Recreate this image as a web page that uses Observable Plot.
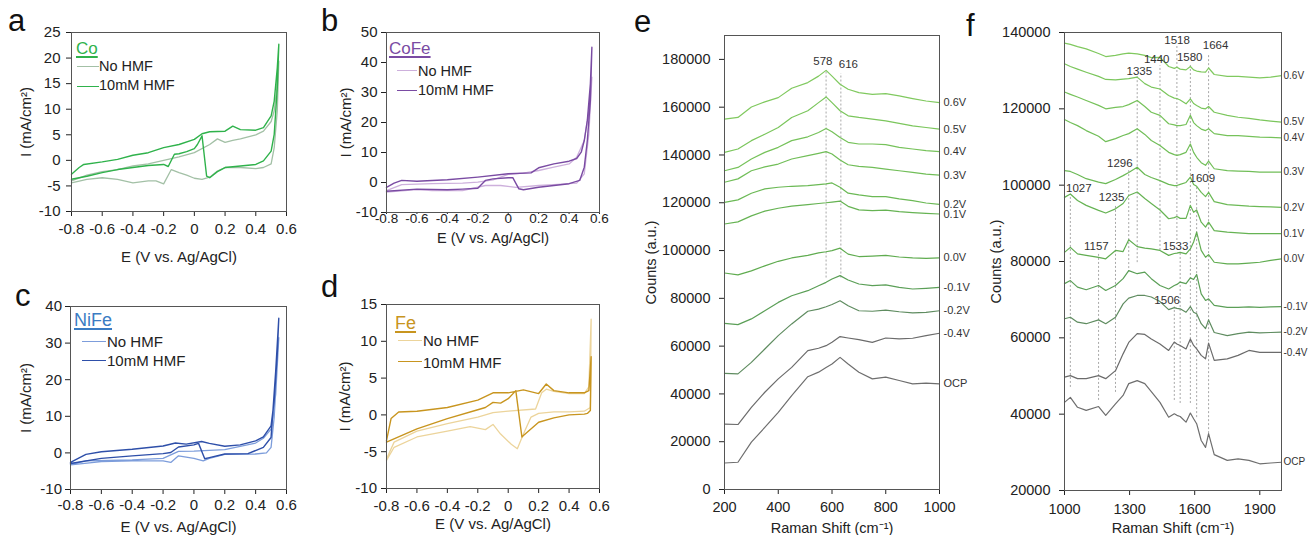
<!DOCTYPE html>
<html><head><meta charset="utf-8">
<script src="https://cdn.jsdelivr.net/npm/d3@7"></script>
<script src="https://cdn.jsdelivr.net/npm/@observablehq/plot@0.6"></script>
<style>
body{margin:0;background:#fff;font-family:"Liberation Sans",Arial,sans-serif;}
#fig{position:relative;width:1308px;height:535px;overflow:hidden;background:#fff;}
.panel{position:absolute;}
.t{position:absolute;line-height:1;white-space:nowrap;color:#222;}
.sw{position:absolute;height:0;}
</style></head>
<body><div id="fig"></div>
<script>
// ---------- CV data (forward sweep then reverse sweep) ----------
const co_hmf_E = [-0.8,-0.75,-0.72,-0.6,-0.5,-0.4,-0.3,-0.2,-0.1,0,0.05,0.1,0.2,0.25,0.3,0.4,0.45,0.5,0.52,0.54,0.55, 0.54,0.52,0.5,0.45,0.4,0.3,0.2,0.15,0.1,0.08,0.05,0.02,0,-0.05,-0.1,-0.13,-0.17,-0.2,-0.3,-0.4,-0.5,-0.6,-0.7,-0.8];
const co_hmf_I = [-2.7,-1.4,-0.8,-0.3,0.2,1.0,1.5,2.5,3.1,4.1,5.2,5.6,5.7,6.7,6.0,5.9,6.4,8.7,11.6,18.1,22.7, 14.2,5.1,1.8,-0.1,-0.8,-1.1,-1.4,-2.2,-3.4,-3.1,4.8,3.1,2.3,1.7,1.3,1.2,-1.2,-0.8,-1.0,-1.4,-1.8,-2.4,-3.1,-3.7];
const co_no_E = [-0.8,-0.7,-0.6,-0.5,-0.4,-0.3,-0.2,-0.1,0,0.1,0.15,0.2,0.25,0.3,0.4,0.45,0.5,0.52,0.54,0.55, 0.54,0.52,0.5,0.45,0.4,0.3,0.2,0.15,0.1,0.05,0,-0.05,-0.1,-0.15,-0.2,-0.25,-0.3,-0.4,-0.5,-0.6,-0.7,-0.8];
const co_no_I = [-4.0,-2.9,-2.2,-1.8,-1.1,-0.7,0,0.7,1.5,3.1,4.2,3.5,3.9,4.2,5.0,5.7,7.6,9.7,14.9,19.4, 9.7,2.5,-0.7,-1.4,-1.6,-1.4,-1.4,-2.1,-3.3,-3.7,-3.5,-2.9,-2.4,-1.8,-4.6,-4.0,-4.0,-4.4,-3.7,-3.4,-3.7,-4.4];

const cofe_hmf_E = [-0.8,-0.75,-0.7,-0.6,-0.4,-0.2,0,0.15,0.2,0.3,0.4,0.45,0.48,0.5,0.52,0.54,0.55, 0.54,0.52,0.5,0.47,0.4,0.3,0.2,0.1,0.07,0.03,0,-0.1,-0.15,-0.2,-0.3,-0.4,-0.6,-0.8];
const cofe_hmf_I = [-1.6,-0.2,0.7,0.4,0.9,1.8,2.9,3.2,4.9,6.2,7.1,8.0,10.1,14.0,20.7,32.9,45.1, 27.3,14.0,5.1,0.7,-0.4,-1.0,-1.6,-2.4,-2.1,1.6,1.6,1.2,0.7,-1.9,-2.2,-2.4,-2.2,-2.9];
const cofe_no_E = [-0.8,-0.7,-0.5,-0.3,-0.2,-0.1,0,0.1,0.2,0.3,0.4,0.45,0.5,0.53,0.55, 0.53,0.5,0.45,0.3,0.2,0.05,-0.05,-0.15,-0.3,-0.5,-0.6,-0.8];
const cofe_no_I = [-2.7,-0.7,-0.4,-0.2,0.1,0.9,2.7,3.1,4.0,5.1,6.2,8.4,14.0,24.0,35.1, 16.2,2.9,-0.2,-0.7,-1.0,-1.6,-1.0,-1.0,-2.7,-2.7,-2.4,-3.2];

const nife_hmf_E = [-0.8,-0.75,-0.7,-0.6,-0.4,-0.2,-0.12,-0.05,0.05,0.1,0.2,0.3,0.4,0.45,0.5,0.52,0.54,0.55, 0.53,0.5,0.45,0.35,0.2,0.1,0.07,0.03,0,-0.1,-0.15,-0.2,-0.4,-0.6,-0.8];
const nife_hmf_I = [-2.6,-1.5,-0.4,0.3,1.0,1.9,2.7,2.4,3.1,2.6,1.8,2.2,3.3,4.4,7.4,14.2,27.0,36.8, 22.4,4.2,1.5,-0.2,-0.3,-1.3,-1.6,2.6,2.2,1.6,0.1,-0.2,-0.8,-1.5,-2.9];
const nife_no_E = [-0.8,-0.7,-0.4,-0.2,-0.1,0,0.2,0.3,0.4,0.45,0.5,0.53,0.55, 0.52,0.5,0.47,0.4,0.2,0.1,0.06,0,-0.1,-0.15,-0.2,-0.4,-0.6,-0.8];
const nife_no_I = [-3.1,-2.2,-1.9,-1.5,0.4,0.5,0.9,1.8,2.7,4.0,6.5,16.0,31.5, 9.7,1.5,0,-0.3,-0.4,-1.5,-2.2,-1.5,-0.8,-2.6,-2.2,-2.2,-2.4,-3.3];

const fe_hmf_E = [-0.8,-0.77,-0.72,-0.6,-0.4,-0.2,-0.1,0,0.1,0.2,0.25,0.3,0.4,0.5,0.53,0.545, 0.54,0.52,0.5,0.4,0.3,0.2,0.1,0.09,0.05,0,-0.05,-0.1,-0.15,-0.2,-0.4,-0.6,-0.8];
const fe_hmf_I = [-3.5,-0.5,0.4,0.5,1.0,2.0,3.0,3.0,3.4,2.9,4.2,3.3,3.0,3.0,3.3,7.9, 0.6,0.2,0.1,0,-0.4,-1.0,-2.8,-3.0,3.3,2.2,1.6,1.7,1.0,0.7,-0.5,-1.9,-3.7];
const fe_no_E = [-0.8,-0.75,-0.6,-0.4,-0.2,-0.1,0,0.18,0.22,0.25,0.3,0.4,0.5,0.53,0.545, 0.54,0.5,0.4,0.3,0.2,0.15,0.1,0.06,0.02,-0.05,-0.1,-0.15,-0.25,-0.4,-0.6,-0.75,-0.8];
const fe_no_I = [-6.0,-3.7,-2.2,-1.2,-0.3,0.3,0.5,0.8,3.0,3.5,3.2,2.9,2.9,3.8,13.0, 1.0,0.5,0.4,0.4,0.2,-0.3,-2.6,-4.6,-4.0,-2.6,-1.3,-2.0,-1.6,-2.2,-3.0,-4.4,-6.2];

const cvXTicks = [-0.8,-0.6,-0.4,-0.2,0,0.2,0.4,0.6];
const coYTicks = [-10,-5,0,5,10,15,20,25];
const cofeYTicks = [-10,0,10,20,30,40,50];
const nifeYTicks = [-10,0,10,20,30,40];
const feYTicks = [-10,-5,0,5,10,15];

// ---------- Raman (e) ----------
const e_x = [200,250,300,350,400,450,510,550,578,600,630,660,700,750,800,850,900,950,1000];
const e_p06 = [155000,155700,160100,162200,164000,167900,170300,173000,175400,173000,169600,167500,166100,165400,165700,164700,163600,162600,161900];
const e_p05 = [141100,142500,146000,148700,151500,155700,158500,161900,164300,161900,158500,156400,155700,155000,154300,153200,152200,151500,150800];
const e_p04 = [133400,134800,138300,141100,143200,146000,147600,149400,151100,149700,147300,145300,144600,144600,144300,143200,142500,141800,141400];
const e_p03 = [128600,130000,133400,135000,136200,138300,139700,140700,141400,140400,137900,135900,135200,134800,134100,133400,132700,132000,131600];
const e_p02 = [120200,121200,124000,125800,126500,126900,127200,127600,127900,128300,126500,124000,123300,122600,122600,121600,120900,119900,119300];
const e_p01 = [111100,112000,114500,116500,117700,118600,119200,119700,120000,120300,120700,118500,117000,116700,116900,116300,115900,115600,115300];
const e_p00 = [90600,89800,91500,93600,95500,96900,98000,99000,99500,100000,101000,98500,97500,97700,98000,97300,96900,96700,96900];
const e_m01 = [69500,69000,71400,74800,78300,81100,83200,85300,86700,88100,89500,87700,86000,85300,85600,84600,83900,84200,84600];
const e_m02 = [48600,48400,53200,58800,64400,69300,74600,75500,76500,77400,79000,76900,74800,74600,75100,74400,73900,74100,74800];
const e_m04 = [27400,27200,34400,40700,46300,51100,58100,59100,60200,61600,64000,63400,62700,61600,63400,63000,63300,64400,65400];
const e_ocp = [11100,11400,19800,26000,32300,39300,47200,49100,51100,52500,55300,52500,49100,46300,47000,45600,44200,44500,44200];
const e_names = ["0.6V","0.5V","0.4V","0.3V","0.2V","0.1V","0.0V","-0.1V","-0.2V","-0.4V","OCP"];
const e_spectra = [e_p06,e_p05,e_p04,e_p03,e_p02,e_p01,e_p00,e_m01,e_m02,e_m04,e_ocp];
const e_xTicks = [200,400,600,800,1000];
const e_yTicks = [0,20000,40000,60000,80000,100000,120000,140000,160000,180000];
const e_lineX = [578,633];
const e_lineTop = [175000,174000];
const e_lineBottom = [88500,88500];
const e_peakText = ["578","616"];
const e_peakX = [566,661];
const e_peakY = [179150,177900];

// ---------- Raman (f) ----------
const f_x = [1000,1027,1060,1100,1157,1190,1235,1270,1296,1335,1370,1400,1440,1480,1506,1518,1533,1560,1580,1595,1609,1630,1650,1664,1690,1750,1800,1850,1900,1950,2000];
const f_p06 = [137200,136900,136300,135700,134500,133700,134000,134400,134600,134400,134000,133400,133500,131100,130600,130900,130400,130200,131100,130200,129900,129700,129600,130700,129000,128500,128500,128300,128100,128300,128700];
const f_p05 = [131800,131100,130400,129600,128500,127700,127600,127800,127900,128300,126600,125700,125200,123500,122800,122700,122300,121300,122600,121400,120900,120200,120000,120600,119100,118300,117800,117500,117100,116800,116500];
const f_p04 = [124400,123800,123100,122200,120900,120000,120400,120600,121100,122200,120600,119100,118300,116100,115800,115600,115600,115900,118300,116400,115600,114700,114300,114800,113500,113000,113000,112800,112600,112500,112400];
const f_p03 = [117200,116400,115600,114300,112800,111400,112200,113000,113500,114800,113300,111700,110400,108600,108000,107800,108000,108600,110800,108600,107300,105900,105200,106300,104300,103800,103700,103600,103400,103400,103400];
const f_p02 = [103800,103600,102800,101700,100800,100400,101500,102500,103300,104700,102800,102000,101200,100200,99900,99900,100200,100700,102100,100200,99700,98100,97000,98100,95700,94900,94700,94500,94400,94300,94200];
const f_p01 = [96800,97700,96000,94700,93400,92700,93800,95200,97300,98200,96500,95200,93500,91200,91500,91800,91300,91300,94700,92900,93500,90300,89000,90300,88100,87700,87500,87300,87300,87300,87300];
const f_p00 = [82400,83700,82000,81600,81100,80700,82900,82600,85700,83900,83500,83300,82900,81600,82100,82200,82400,82000,83300,85100,87700,82900,81100,81800,79800,79400,79400,79600,79800,80300,80700];
const f_m01 = [74200,75000,73300,72600,73700,72400,73700,75500,77600,76800,77200,75500,73700,72800,73700,74000,74600,74200,75700,75300,76600,71500,69800,70200,68500,68000,68000,68100,68000,68100,68200];
const f_m02 = [65000,65400,64100,63700,64700,63700,65400,68900,70400,71100,71100,70700,69500,67400,67900,67700,67600,66700,68200,66700,66300,63700,62400,64700,61400,60600,61100,61500,61300,61400,61500];
const f_m04 = [49700,50100,49300,49300,50100,49300,51400,55800,58800,61100,60900,59700,58400,56700,58900,58400,58000,57100,59700,58000,57100,55400,54500,58600,54100,54500,55400,56700,56200,56200,56200];
const f_ocp = [43100,44400,41800,41000,42000,39700,42700,44900,48000,48800,48000,45900,43100,39200,40100,39700,39400,37900,40300,38800,37500,33100,31300,34900,29400,27900,28300,27900,27000,27200,27400];
const f_names = ["0.6V","0.5V","0.4V","0.3V","0.2V","0.1V","0.0V","-0.1V","-0.2V","-0.4V","OCP"];
const f_spectra = [f_p06,f_p05,f_p04,f_p03,f_p02,f_p01,f_p00,f_m01,f_m02,f_m04,f_ocp];
const f_xTicks = [1000,1300,1600,1900];
const f_yTicks = [20000,40000,60000,80000,100000,120000,140000];
const f_lineX = [1027,1157,1235,1296,1335,1440,1506,1518,1533,1580,1609,1664];
const f_lineTop = [97300,82100,94700,103800,128600,131300,68100,136600,82100,131900,99900,134000];
const f_lineBottom = [47000,43600,45700,77100,79700,82900,43600,85500,42800,42800,39100,34900];
const f_peakText = ["1027","1157","1235","1296","1335","1440","1506","1518","1533","1580","1609","1664"];
const f_peakX = [1066,1147,1217,1255,1345,1425,1473,1519,1512,1577,1635,1696];
const f_peakY = [99300,83900,96900,105600,129700,133000,69800,137900,83900,133400,101800,136600];

// ---------- styles ----------
const ramanColors = ["#80c95f","#7bc65c","#76c25a","#71be58","#6bb955","#66b353","#60ac50","#5b9f57","#5f8c60","#6b6b6b","#6e6e6e"];
const FONT = "Liberation Sans, Arial, sans-serif";
const fig = document.getElementById("fig");

function place(node, left, top, w) {
  const d = document.createElement("div");
  d.className = "panel";
  d.style.left = left + "px"; d.style.top = top + "px"; d.style.width = w + "px";
  d.appendChild(node); fig.appendChild(d);
}
function txt(s, left, top, size, color, extra) {
  const d = document.createElement("div");
  d.className = "t"; d.textContent = s;
  d.style.left = left + "px"; d.style.top = top + "px"; d.style.fontSize = size + "px";
  if (color) d.style.color = color;
  if (extra) Object.assign(d.style, extra);
  fig.appendChild(d);
}
function sw(left, top, width, color) {
  const d = document.createElement("div");
  d.className = "sw";
  d.style.left = left + "px"; d.style.top = top + "px"; d.style.width = width + "px";
  d.style.borderTop = "1.6px solid " + color;
  fig.appendChild(d);
}
const pts = (E, I) => E.map((e, i) => ({E: e, I: I[i]}));
const fmtE = d => d === 0 ? "0" : d.toFixed(1);

function cv(c) {
  return Plot.plot({
    width: c.w, height: c.h,
    marginLeft: c.ml, marginRight: c.mr, marginTop: c.mt, marginBottom: c.mb,
    x: {domain: [-0.8, 0.6]},
    y: {domain: c.ydom},
    style: {fontFamily: FONT, fontSize: "15px", color: "#222", background: "transparent", overflow: "visible"},
    marks: [
      Plot.axisX({ticks: cvXTicks, tickFormat: fmtE, tickSize: c.xts, tickPadding: c.xtp, fontSize: c.xfs || 15,
        label: null}),
      Plot.axisX({ticks: [], tickSize: 0, fontSize: c.lfs || 15,
        label: "E (V vs. Ag/AgCl)", labelAnchor: "center", labelArrow: "none", labelOffset: c.xlo}),
      Plot.axisY({ticks: c.yticks, tickFormat: d => String(d), tickSize: 5, tickPadding: c.ytp, fontSize: 15,
        label: "I (mA/cm²)", labelAnchor: "center", labelArrow: "none", labelOffset: c.ylo}),
      Plot.line(pts(c.noE, c.noI), {x: "E", y: "I", stroke: c.cNo, strokeWidth: 1.3}),
      Plot.line(pts(c.hE, c.hI), {x: "E", y: "I", stroke: c.cH, strokeWidth: 1.4}),
      Plot.frame({stroke: "#555"})
    ]
  });
}

place(cv({w: 300, h: 270, ml: 71, mr: 14, mt: 32, mb: 59, ydom: [-10, 25], yticks: coYTicks,
  xts: 5, xtp: 7, xlo: 50, ytp: 6, ylo: 51,
  noE: co_no_E, noI: co_no_I, hE: co_hmf_E, hI: co_hmf_I, cNo: "#a3c0a6", cH: "#2fb24b"}), 0, 0, 300);
place(cv({w: 310, h: 270, ml: 86, mr: 11, mt: 32, mb: 58, ydom: [-10, 50], yticks: cofeYTicks,
  xts: 2, xtp: -1, xfs: 13.5, lfs: 14.5, xlo: 30, ytp: 4, ylo: 46,
  noE: cofe_no_E, noI: cofe_no_I, hE: cofe_hmf_E, hI: cofe_hmf_I, cNo: "#cdb0dc", cH: "#7a4ba3"}), 300, 0, 310);
place(cv({w: 300, h: 265, ml: 70, mr: 14, mt: 36, mb: 46, ydom: [-10, 40], yticks: nifeYTicks,
  xts: 5, xtp: 5, xlo: 42, ytp: 3.5, ylo: 50,
  noE: nife_no_E, noI: nife_no_I, hE: nife_hmf_E, hI: nife_hmf_I, cNo: "#7d9ddb", cH: "#2e4fa9"}), 0, 270, 300);
place(cv({w: 310, h: 265, ml: 86, mr: 11, mt: 34, mb: 47, ydom: [-10, 15], yticks: feYTicks,
  xts: 5, xtp: 7, xlo: 40, ytp: 4.5, ylo: 47,
  noE: fe_no_E, noI: fe_no_I, hE: fe_hmf_E, hI: fe_hmf_I, cNo: "#ecd49b", cH: "#c8951f"}), 300, 270, 310);

function raman(c) {
  const lines = c.spectra.map((s, i) => Plot.line(c.x.map((x, j) => ({x, y: s[j]})), {x: "x", y: "y", stroke: ramanColors[i], strokeWidth: 1.2}));
  const ends = c.names.map((n, i) => ({n, x: c.x[c.x.length - 1], y: c.spectra[i][c.spectra[i].length - 1]}));
  const rules = c.lineX.map((x, i) => ({x, y1: c.lineBottom[i], y2: c.lineTop[i]}));
  const peaks = c.peakText.map((t, i) => ({t, x: c.peakX[i], y: c.peakY[i]}));
  return Plot.plot({
    width: c.w, height: c.h,
    marginLeft: c.ml, marginRight: c.mr, marginTop: c.mt, marginBottom: c.mb,
    x: {domain: c.xdom}, y: {domain: c.ydom},
    style: {fontFamily: FONT, fontSize: "14.5px", color: "#222", background: "transparent", overflow: "visible"},
    marks: [
      Plot.axisX({ticks: c.xTicks, tickFormat: d => String(d), tickSize: 5, tickPadding: c.xtp, fontSize: 14.5,
        label: "Raman Shift (cm⁻¹)", labelAnchor: "center", labelArrow: "none", labelOffset: c.xlo}),
      Plot.axisY({ticks: c.yTicks, tickFormat: d => String(d), tickSize: 5, tickPadding: 9, fontSize: 14.5,
        label: "Counts (a.u.)", labelAnchor: "center", labelArrow: "none", labelOffset: c.ylo}),
      Plot.ruleX(rules, {x: "x", y1: "y1", y2: "y2", stroke: "#a8a8a8", strokeWidth: 1, strokeDasharray: "2,2"}),
      ...lines,
      Plot.text(ends, {x: "x", y: "y", text: "n", textAnchor: "start", dx: c.ldx, fontSize: c.lfs, fill: "#333"}),
      Plot.text(peaks, {x: "x", y: "y", text: "t", fontSize: 11.5, fill: "#333"}),
      Plot.frame({stroke: "#555"})
    ]
  });
}

place(raman({w: 360, h: 535, ml: 114, mr: 31, mt: 35, mb: 46, xdom: [200, 1000], ydom: [0, 190000],
  x: e_x, spectra: e_spectra, names: e_names, xTicks: e_xTicks, yTicks: e_yTicks, xtp: 7, xlo: 43, ylo: 79, ldx: 4, lfs: 11,
  lineX: e_lineX, lineTop: e_lineTop, lineBottom: e_lineBottom, peakText: e_peakText, peakX: e_peakX, peakY: e_peakY}), 610, 0, 360);
place(raman({w: 348, h: 535, ml: 104, mr: 27, mt: 32, mb: 45, xdom: [1000, 2000], ydom: [20000, 140000],
  x: f_x, spectra: f_spectra, names: f_names, xTicks: f_xTicks, yTicks: f_yTicks, xtp: 8, xlo: 42, ylo: 74, ldx: 2, lfs: 10,
  lineX: f_lineX, lineTop: f_lineTop, lineBottom: f_lineBottom, peakText: f_peakText, peakX: f_peakX, peakY: f_peakY}), 960, 0, 348);

// ---------- legends ----------
const ul = {textDecoration: "underline", textDecorationThickness: "1.5px", textUnderlineOffset: "2px"};
txt("Co", 76, 40, 17, "#2fb24b", ul);
sw(77, 66, 22, "#a3c0a6"); txt("No HMF", 99, 59, 14.5);
sw(77, 85.5, 22, "#2fb24b"); txt("10mM HMF", 99, 78, 14.5);

txt("CoFe", 389, 40, 17, "#7a4ba3", ul);
sw(397, 70, 20, "#cdb0dc"); txt("No HMF", 418, 64, 14.5);
sw(397, 89.5, 20, "#7a4ba3"); txt("10mM HMF", 418, 83, 14.5);

txt("NiFe", 74, 311, 18, "#3b7cc3", ul);
sw(82, 341, 24, "#7d9ddb"); txt("No HMF", 107, 334, 15);
sw(82, 359.5, 24, "#2e4fa9"); txt("10mM HMF", 107, 353, 15);

txt("Fe", 395, 314, 18, "#c8951f", ul);
sw(398, 339.5, 24, "#ecd49b"); txt("No HMF", 423, 333, 15);
sw(398, 361, 24, "#c8951f"); txt("10mM HMF", 423, 355, 15);

// ---------- panel letters ----------
txt("a", 8, 5, 31, "#111"); txt("b", 321, 5, 31, "#111");
txt("c", 15, 280, 31, "#111"); txt("d", 321, 271, 31, "#111");
txt("e", 634, 6, 31, "#111"); txt("f", 966, 10, 31, "#111");
</script></body></html>
